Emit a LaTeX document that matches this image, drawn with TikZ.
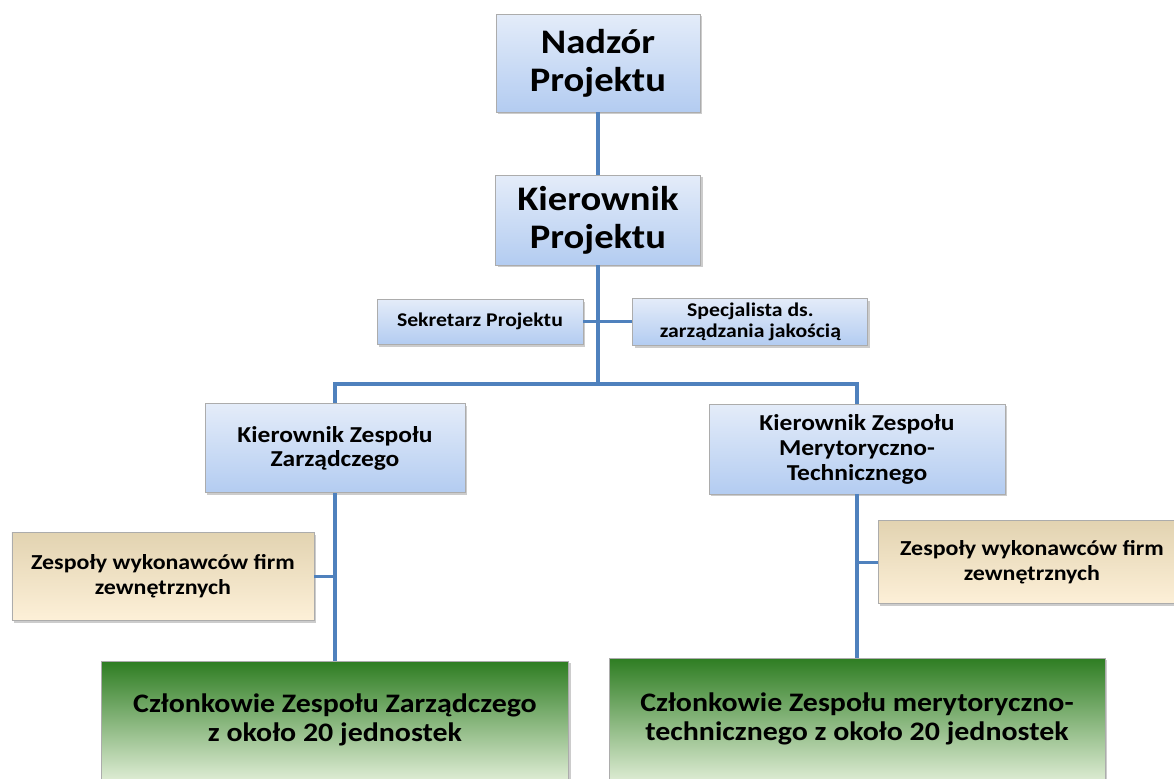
\documentclass[tikz,border=0pt]{standalone}
\usepackage{fontspec}
\setmainfont[FakeStretch=1.12]{Carlito}
\usetikzlibrary{shadows}
\definecolor{linkblue}{HTML}{4F81BD}
\definecolor{bluetop}{HTML}{E4ECF9}
\definecolor{bluebot}{HTML}{B3CCF1}
\definecolor{tantop}{HTML}{E2D3B1}
\definecolor{tanbot}{HTML}{FDF0D8}
\definecolor{greentop}{HTML}{2E7D22}
\definecolor{greenbot}{HTML}{DCEBD2}
\begin{document}
\begin{tikzpicture}[node distance=3.925cm, auto]
    % Styles
    \tikzstyle{box} = [rectangle, draw=gray!65, line width=0.6pt, align=center, inner sep=0pt, drop shadow={shadow xshift=0.05cm, shadow yshift=-0.06cm, opacity=0.4, fill=gray}]
    \tikzstyle{bluebox} = [box, top color=bluetop, bottom color=bluebot]
    \tikzstyle{tanbox} = [box, top color=tantop, bottom color=tanbot, minimum height=2.2cm, font=\fontsize{15.2}{17.5}\selectfont\bfseries]
    \tikzstyle{greenbox} = [box, top color=greentop, bottom color=greenbot, font=\fontsize{19}{21}\selectfont\bfseries]
    \tikzstyle{line} = [draw=linkblue, line width=2.2pt]

    \useasboundingbox (0,0) rectangle (29.35,-19.45);

    % Nodes
    \node[bluebox, minimum width=5.1cm, minimum height=2.45cm, font=\fontsize{24.5}{27}\selectfont\bfseries] (nadzor) at (14.95,-1.575) {Nadzór\\Projektu};
    \node[bluebox, minimum width=5.125cm, minimum height=2.25cm, font=\fontsize{24.5}{27}\selectfont\bfseries, below of=nadzor] (kierownik) {Kierownik\\Projektu};
    \node[bluebox, minimum width=5.15cm, minimum height=1.125cm, font=\fontsize{13.8}{15}\selectfont\bfseries] (sekretarz) at (12.0,-8.04) {Sekretarz Projektu};
    \node[bluebox, minimum width=5.875cm, minimum height=1.175cm, font=\fontsize{13.8}{15}\selectfont\bfseries] (specjalista) at (18.76,-8.04) {Specjalista ds.\\zarządzania jakością};
    \node[bluebox, minimum width=6.5cm, minimum height=2.225cm, font=\fontsize{16.2}{17.5}\selectfont\bfseries] (kzz) at (8.375,-11.21) {Kierownik Zespołu\\Zarządczego};
    \node[bluebox, minimum width=7.4cm, minimum height=2.25cm, font=\fontsize{16.2}{17.8}\selectfont\bfseries] (kzm) at (21.425,-11.225) {Kierownik Zespołu\\Merytoryczno-\\Technicznego};
    \node[tanbox, minimum width=7.55cm] (zwl) at (4.075,-14.41) {Zespoły wykonawców firm\\zewnętrznych};
    \node[tanbox, minimum width=7.7cm, minimum height=2.075cm] (zwr) at (25.8,-14.06) {Zespoły wykonawców firm\\zewnętrznych};
    \node[greenbox, minimum width=11.675cm, minimum height=2.95cm, below of=kzz, node distance=6.79cm] (czl) {Członkowie Zespołu Zarządczego\\z około 20 jednostek};
    \node[greenbox, minimum width=12.4cm, minimum height=3.05cm, below of=kzm, node distance=6.75cm] (czm) {Członkowie Zespołu merytoryczno-\\technicznego z około 20 jednostek};

    % Lines
    \coordinate (bar) at (kierownik.south |- 0,-9.6);
    \draw[line] (nadzor) -- (kierownik);
    \draw[line] (kierownik) -- (bar);
    \draw[line] (sekretarz.east) -- (sekretarz.east -| bar);
    \draw[line] (specjalista.west) -- (specjalista.west -| bar);
    \draw[line] (kzz.north) |- (bar) -| (kzm.north);
    \draw[line] (kzz) -- (czl);
    \draw[line] (zwl.east) -- (zwl.east -| kzz.south);
    \draw[line] (kzm) -- (czm);
    \draw[line] (zwr.west) -- (zwr.west -| kzm.south);
\end{tikzpicture}
\end{document}
